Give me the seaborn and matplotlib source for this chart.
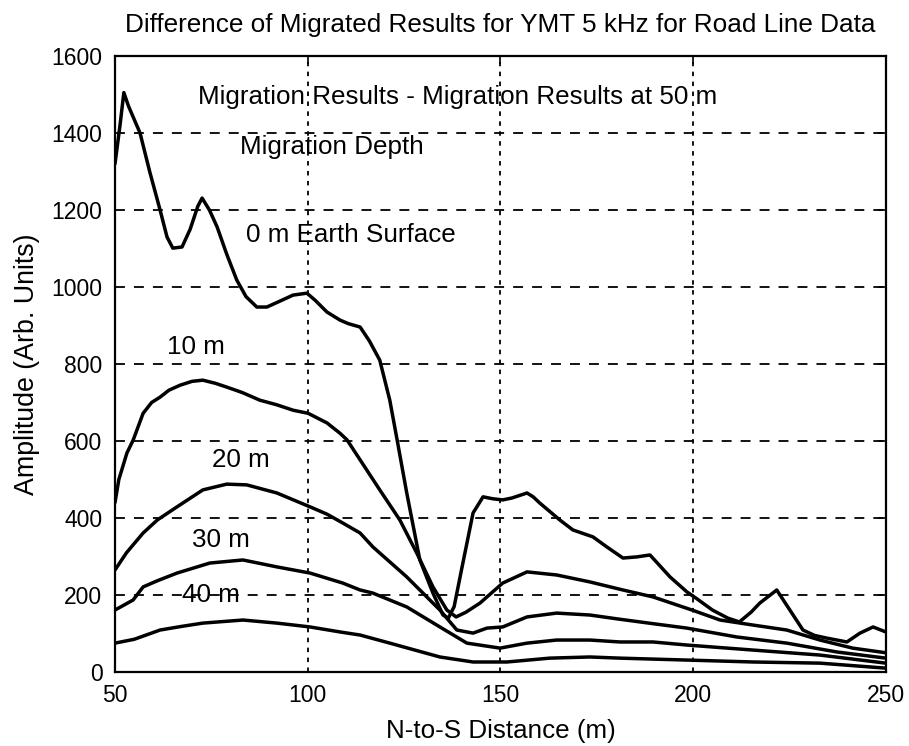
import matplotlib
matplotlib.use("Agg")
import matplotlib.pyplot as plt
import seaborn as sns
import pandas as pd

# Amplitude differences versus N-to-S distance, one trace per migration depth
x_0m = [50, 51.3, 52.3, 53.5, 56.5, 59, 61.7, 63.5, 65, 67.4, 69.5, 71.5, 72.6, 74.5,
        76.5, 79, 81.6, 84, 86.8, 89.4, 92.5, 96.2, 99.8, 102, 105, 108.4, 110.5,
        113.6, 116, 118.7, 121.3, 123.2, 125.7, 129.1, 132.5, 135.1, 136.5, 138, 140,
        142.9, 145.5, 148, 150.6, 153, 156.9, 158.5, 160.2, 165.4, 168.8, 174, 177.6,
        181.8, 185.4, 188.8, 191, 194, 198.4, 201, 205, 209, 212, 215, 217.3, 221.7,
        225.1, 228.5, 231.5, 234.7, 239.9, 243.3, 246.7, 250]
y_0m = [1320, 1420, 1505, 1470, 1400, 1300, 1200, 1130, 1101, 1104, 1150, 1210, 1231, 1200,
        1156, 1085, 1018, 975, 948, 948, 962, 979, 984, 965, 935, 914, 905,
        896, 860, 810, 706, 603, 465, 291, 205, 148, 140, 170, 270,
        413, 455, 450, 447, 452, 465, 455, 439, 395, 369, 351, 325,
        296, 299, 304, 280, 247, 208, 190, 161, 140, 130, 155, 179, 213,
        161, 109, 95, 88, 78, 101, 117, 104]

x_10m = [50, 51, 53.1, 54.7, 57.3, 59.5, 61.7, 64, 66.9, 70, 72.8, 76, 79, 83, 87.6, 92,
         96.2, 100.1, 105, 108.4, 110.2, 113.6, 118.7, 123.9, 128.3, 132.5, 136.1, 138.5,
         141, 144.7, 150.6, 156.9, 164.6, 173.2, 181.8, 189.6, 199.7, 207, 215.5, 224.3,
         232.9, 241.4, 250]
y_10m = [440, 500, 569, 602, 672, 700, 714, 732, 745, 755, 758, 750, 740, 726, 706, 694,
         680, 672, 647, 620, 603, 551, 473, 395, 309, 221, 161, 143,
         155, 179, 231, 260, 252, 234, 213, 195, 161, 135, 122, 109,
         83, 62, 50]

x_20m = [50, 53, 57.3, 61, 66.1, 72.8, 79, 84.2, 92, 100.6, 105, 109.1, 113.6, 116.9,
         125.7, 134.3, 138.7, 142.9, 146.5, 150.6, 156.9, 164.6, 173.2, 181, 190, 198.4,
         211.3, 224.3, 237.3, 250]
y_20m = [265, 310, 361, 395, 429, 473, 488, 486, 465, 429, 410, 387, 361, 325,
         247, 161, 109, 101, 114, 117, 143, 153, 148, 137, 125, 114,
         91, 75, 52, 36]

x_30m = [50, 52, 54.7, 57.3, 61, 66.1, 74.6, 83.2, 92, 100.6, 109.1, 113.6, 116.9, 125.7,
         134.3, 141.3, 149.9, 156.9, 164.6, 173.2, 181, 189.6, 198.4, 215.5, 232.9, 250]
y_30m = [161, 172, 187, 221, 237, 257, 283, 291, 273, 257, 231, 213, 205, 169,
         117, 75, 62, 75, 83, 83, 78, 78, 70, 57, 44, 23]

x_40m = [50, 55, 61.7, 67, 72.8, 83.2, 92, 100.6, 108.4, 113.6, 121.3, 134.3, 142.9,
         151.7, 162.8, 173.2, 181, 198.4, 215.5, 232.9, 250]
y_40m = [75, 85, 109, 118, 127, 135, 127, 117, 104, 96, 75, 39, 26,
         26, 36, 39, 36, 31, 26, 23, 10]

depth_names = ["0 m", "10 m", "20 m", "30 m", "40 m"]
xs = [x_0m, x_10m, x_20m, x_30m, x_40m]
ys = [y_0m, y_10m, y_20m, y_30m, y_40m]

x_ticks = [50, 100, 150, 200, 250]
y_ticks = [0, 200, 400, 600, 800, 1000, 1200, 1400, 1600]

title = "Difference of Migrated Results for YMT 5 kHz for Road Line Data"
x_label = "N-to-S Distance (m)"
y_label = "Amplitude (Arb. Units)"
header_lines = ["Migration Results - Migration Results at 50 m", "Migration Depth"]
surface_label = "0 m Earth Surface"

frames = [pd.DataFrame({"distance": x, "amplitude": y, "depth": name})
          for name, x, y in zip(depth_names, xs, ys)]
df = pd.concat(frames, ignore_index=True)

sns.set_theme(style="white")
plt.rcParams["font.family"] = ["Liberation Sans", "DejaVu Sans"]

fig = plt.figure(figsize=(9.09, 7.46), dpi=100)
ax = fig.add_axes([0.1265, 0.0992, 0.848, 0.8257])

sns.lineplot(data=df, x="distance", y="amplitude", units="depth", estimator=None,
             color="black", linewidth=2.5, sort=False, ax=ax, legend=False)

ax.set_xlim(50, 250)
ax.set_ylim(0, 1600)
ax.set_xticks(x_ticks)
ax.set_yticks(y_ticks)
ax.tick_params(direction="in", length=6, width=1.2, top=True, right=True,
               labelsize=16.5, colors="black", pad=9)

ax.yaxis.grid(True, color="black", linewidth=1.3, linestyle=(0, (5.5, 5)))
ax.xaxis.grid(True, color="black", linewidth=1.3, linestyle=(0, (2.5, 3)))
for s in ax.spines.values():
    s.set_color("black")
    s.set_linewidth(1.6)

ax.set_title(title, fontsize=18.8, color="black", pad=17)
ax.set_xlabel(x_label, fontsize=18.7, color="black", labelpad=8)
ax.set_ylabel(y_label, fontsize=19.3, color="black", labelpad=8)

txt = dict(fontsize=18.7, color="black", va="center", ha="left")
ax.text(71.5, 1493, header_lines[0], **txt)
ax.text(82.4, 1363, header_lines[1], **txt)
ax.text(84, 1135, surface_label, **txt)
ax.text(63.5, 844, depth_names[1], **txt)
ax.text(75.2, 551, depth_names[2], **txt)
ax.text(70, 343, depth_names[3], **txt)
ax.text(67.4, 200, depth_names[4], **txt)

fig.savefig("out.png", dpi=100, facecolor="white")
